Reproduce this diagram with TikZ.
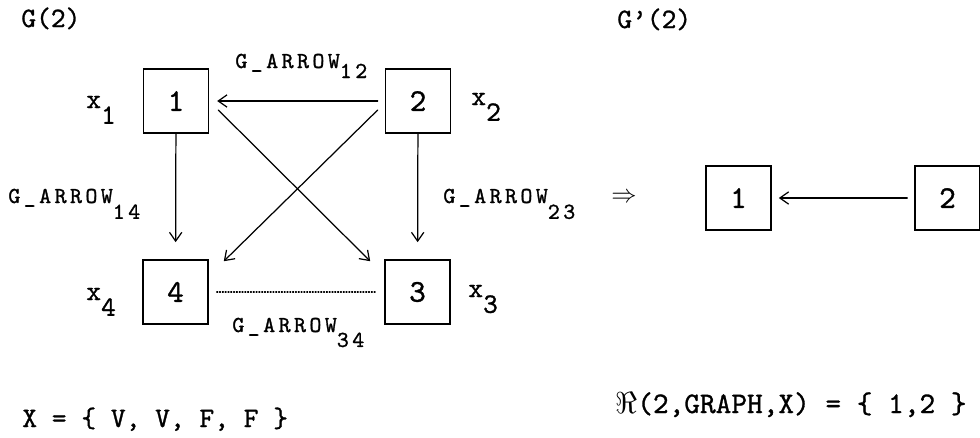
\documentclass[tikz,border=0pt]{standalone}
\usepackage{fontspec}
\newfontfamily\typefont[FakeBold=1]{lmmono10-regular.otf}
\newfontfamily\spacedfont[LetterSpace=15,FakeBold=1.2]{lmmono10-regular.otf}
\usetikzlibrary{arrows.meta,calc}
\newcommand\garrow[2][9pt]{G\_ARROW\raisebox{-#1}{#2}}
\newcommand\xsub[1]{x\raisebox{-9pt}{#1}}

\begin{document}
\begin{tikzpicture}[x=0.02cm, y=-0.02cm, >={Straight Barb[length=5pt,width=7pt]}, line cap=round,
    vertex/.style={draw, line width=0.9pt, minimum width=1.3cm, minimum height=1.28cm,
      inner sep=0pt, font=\typefont\fontsize{18}{18}\selectfont},
    txt/.style={anchor=base west, inner sep=0pt, font=\typefont\fontsize{16}{16}\selectfont},
    lbl/.style={anchor=base west, inner sep=0pt, font=\spacedfont\fontsize{13}{13}\selectfont},
    edge/.style={->, line width=0.7pt}]

    \useasboundingbox (0,0) rectangle (980,437);

    % ---- titles ----
    \node[txt] (title) at (21,27) {G(2)};
    \node[txt] (titleb) at (617,28) {G’(2)};

    % ---- the graph G(2) ----
    \node[vertex] (n1) at (176,101) {1};
    \node[vertex] (n2) at (418,101) {2};
    \node[vertex] (n3) at (417.5,292) {3};
    \node[vertex] (n4) at (175.5,292) {4};

    \draw[edge, shorten <=4pt, shorten >=4.5pt] (n2.west) -- (n1.east);
    \draw[edge, shorten >=9.7pt] (n1) -- (n4);
    \draw[edge, shorten >=9.7pt] (n2) -- (n3);
    \draw[edge] ($(n2.west)+(-7,9)$) -- ($(n4.north east)+(15,2)$);
    \draw[edge] ($(n1.east)+(9,9)$) -- ($(n3.north west)+(-14,2)$);
    \draw[densely dotted, line width=0.6pt, shorten <=4.5pt, shorten >=4.5pt] (n4.east) -- (n3.west);

    % ---- vertex values ----
    \node[txt] (x1) at (86,108) {\xsub{1}};
    \node[txt] (x2) at (471,105) {\xsub{2}};
    \node[txt] (x3) at (468,297) {\xsub{3}};
    \node[txt] (x4) at (86,300) {\xsub{4}};

    % ---- arrow names ----
    \node[lbl] (a12) at (235,68) {\garrow[5.7pt]{12}};
    \node[lbl] (a14) at (8,203) {\garrow{14}};
    \node[lbl] (a23) at (443,203) {\garrow{23}};
    \node[lbl] (a34) at (232,332) {\garrow[8.5pt]{34}};

    % ---- the reduced graph G'(2) ----
    \node[font=\fontsize{15}{15}\selectfont, inner sep=0pt] (impl) at (624,198) {$\Rightarrow$};
    \node[vertex] (m1) at (738.5,198) {1};
    \node[vertex] (m2) at (947.5,198) {2};
    \draw[edge, shorten <=4pt, shorten >=4pt] (m2.west) -- (m1.east);

    % ---- sets ----
    \node[txt] (vals) at (22,427) {X = \{ V, V, F, F \}};
    \node[txt, font=\typefont\fontsize{17}{17}\selectfont] (result) at (615,413) {$\Re$(2,GRAPH,X) = \{ 1,2 \}};
\end{tikzpicture}
\end{document}
